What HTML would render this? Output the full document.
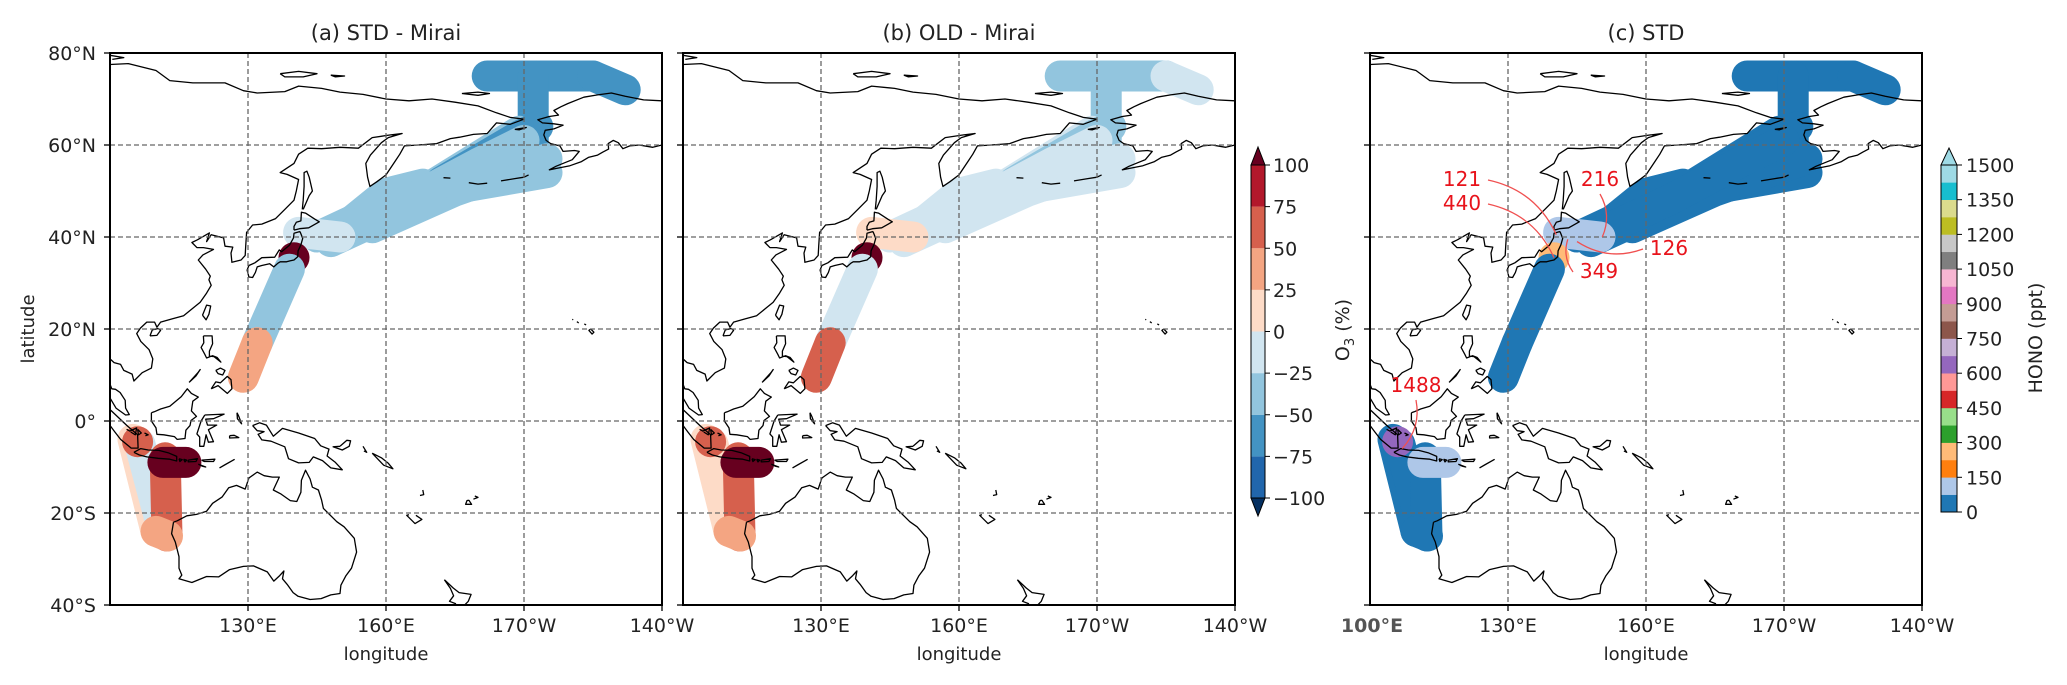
<!DOCTYPE html>
<html><head><meta charset="utf-8">
<style>
html,body{margin:0;padding:0;background:#fff;}
svg{display:block;font-family:"DejaVu Sans","Liberation Sans",sans-serif;}
</style></head>
<body>
<svg id="fig" xmlns="http://www.w3.org/2000/svg" width="2067" height="685" viewBox="0 0 2067 685">
<defs>
<clipPath id="clip0"><rect x="110" y="53" width="552" height="552"/></clipPath>
<clipPath id="clip1"><rect x="683" y="53" width="552" height="552"/></clipPath>
<clipPath id="clip2"><rect x="1370" y="53" width="552" height="552"/></clipPath>
</defs>
</svg>
<script>
// ---- chart data ----
const panelTitles = ["(a) STD - Mirai", "(b) OLD - Mirai", "(c) STD"];
const lonTicks = [130, 160, 190, 220];
const lonTickLabels = ["130°E", "160°E", "170°W", "140°W"];
const latTicks = [80, 60, 40, 20, 0, -20, -40];
const latTickLabels = ["80°N", "60°N", "40°N", "20°N", "0°", "20°S", "40°S"];
const o3Bounds = [-100, -75, -50, -25, 0, 25, 50, 75, 100];
const o3TickLabels = ["−100", "−75", "−50", "−25", "0", "25", "50", "75", "100"];
const o3Colors = ["#2166ac", "#4393c3", "#92c5de", "#d1e5f0", "#fddbc7", "#f4a582", "#d6604d", "#b2182b"];
const honoTicks = [0, 150, 300, 450, 600, 750, 900, 1050, 1200, 1350, 1500];
const honoColors = ["#1f77b4","#aec7e8","#ff7f0e","#ffbb78","#2ca02c","#98df8a","#d62728","#ff9896","#9467bd","#c5b0d5","#8c564b","#c49c94","#e377c2","#f7b6d2","#7f7f7f","#c7c7c7","#bcbd22","#dbdb8d","#17becf","#9edae5"];
// ship track segments (lon/lat in degrees)
const trackLons = [[182,205],[205,212],[192,192],[148,172,195],[145,160,168,189],[152,160,168],[172,189,193],[157,175,195],[150,165,180,190],[141,150],[140,140],[139,132],[132,129],[105,110],[106.5,111],[112,112.4],[111.5,116.5],[106,106],[110,112.5]];
const trackLats = [[75,75],[75,72],[75,54],[39,50,54],[40,47,50,63],[43,49.5,51.5],[52,62,64],[42,50,57],[41,48,56,61],[41,40],[35.5,35.5],[33,17],[17,9.5],[-4,-24],[-5,-22],[-8,-25],[-9,-9],[-4.5,-4.5],[-24,-25]];
const o3DiffSTD = [-55,-60,-55,-40,-40,-35,-55,-40,-40,-15,120,-30,30,10,-10,60,120,60,40];
const o3DiffOLD = [-35,-15,-35,-20,-15,-20,-30,-20,-15,10,120,-15,55,20,15,70,120,60,40];
const honoSTD = [30,30,30,30,30,30,30,30,30,100,250,30,30,30,30,30,100,600,30];
// annotations in panel c
const annoText = ["121","440","216","126","349","1488"];
const annoLon = [140.5,140,150.5,145,143,107];
const annoLat = [40.5,35.5,40,39,39.5,-6];
const annoTextX = [1462,1462,1600,1669,1599,1416];
const annoTextY = [186,210,186,255,278,392];

// coastlines (approximate)
const coasts = [
 [[100,77.5],[104,77.7],[110,76.2],[113,74],[118,73.5],[125,73.5],[129,71.8],[132,71.3],[138,71.6],[141,72.8],[146,72.3],[150,71.5],[155,71],[160,70],[165,69.6],[170,70],[175,69.3],[180,68.5],[184,67],[187,66],[190,65.6],[187,64.5],[184,64.8],[182,62.5],[179,62.3],[176,61.7],[174,61.4],[171,60.3],[167,60],[164,59.8],[163,58],[162,56.5],[161,55],[160,53.5],[158,52],[156.5,51],[156,53],[155.6,56],[156.6,57.8],[159,60.5],[160.5,61.6],[163.5,62.5],[161,62.2],[157,61.6],[154,59.3],[150,59.5],[146,59.2],[143,59.3],[141,58],[140,56],[137,54],[138.5,53.6],[141,52.5],[140.5,50],[140,48],[138,46],[136,44],[133,42.8],[131,42.6],[129.7,41],[129.5,38],[129.4,36],[128.5,35],[126.5,34.5],[126.3,36.5],[126.7,37.8],[125,38],[124.7,39.8],[122,40.5],[121,39],[121.6,40.9],[119,39.4],[117.8,38.8],[118.9,37.7],[120.3,37.7],[122.5,37.3],[120.2,36.1],[119.2,35],[120.8,33],[121.8,31.5],[121.5,30.7],[122,29.5],[121,27.8],[119.6,25.8],[118,24.5],[116,22.9],[113.5,22.2],[111,21.5],[110.2,20.4],[109.7,21.5],[108,21.5],[106.6,20.2],[105.8,19],[106.7,17.3],[108.5,15.5],[109.3,13.5],[109,11.5],[107,10.5],[105.2,8.7],[104.8,10.2],[103,11],[102.3,12.3],[100.9,12.7],[100,13.5]],
 [[100,12.5],[99.2,10.5],[99.8,8.5],[100.4,7],[101.2,6.9],[102.2,6.2],[103.3,4.5],[103.4,2.8],[104.2,1.4],[103.4,1.3],[101.3,2.8],[100.3,4.5],[100,5]],
 [[142,46],[143.3,49],[144,50],[143.3,53],[142.8,54.3],[142.2,54],[142.2,51],[142,48],[141.8,46]],
 [[140,41.5],[141.2,41.8],[143.2,42],[145.5,43.3],[144.5,43.9],[142.5,45.2],[141.6,45.4],[141.5,43.5],[140.5,43.2],[140,42.3],[140,41.5]],
 [[141.3,41.2],[141.9,39.7],[141.5,38.3],[140.9,37],[140.8,35.7],[140,35],[139.1,34.8],[138.4,34.6],[137,34.6],[136.5,34.3],[135.6,33.5],[134.7,34.2],[133,33.8],[132,33.5],[131.6,32.3],[131,31.2],[130.2,31.3],[129.8,32.8],[130.2,33.8],[131.5,34.4],[133,35.5],[135.8,35.6],[136.8,37.2],[137.3,36.8],[139,38.2],[139.9,39.8],[140,40.8],[141.3,41.2]],
 [[120.1,23],[121,25.2],[121.9,25],[121.5,23.2],[120.9,22],[120.1,23]],
 [[108.7,18.5],[110.2,18.6],[111,19.7],[110.5,20.1],[109.2,19.8],[108.7,18.5]],
 [[120.3,18.5],[122.2,18.5],[122.3,16.8],[121.6,15.2],[121.6,14.1],[122.6,14],[124.1,12.8],[123.3,13.8],[122.3,14.2],[121,13.7],[120.6,14.5],[119.8,16],[120.4,17],[120.3,18.5]],
 [[122,7],[123.5,7.7],[125.5,6],[126.5,7],[126.3,9],[125.5,9.7],[124,8.3],[123,8.5],[122,7]],
 [[117.2,8.4],[118.7,9.8],[119.6,11.2],[119.1,10.5],[117.2,8.4]],
 [[123,11],[124,11.5],[125,11],[124.5,10],[123.5,10.3],[123,11]],
 [[109,1.8],[109.6,2],[111,2.6],[113,3.2],[115.5,5.3],[116.8,7],[117.7,6],[119.2,5.2],[118,4.3],[117.7,2.2],[118.8,1],[117.6,0.1],[117.4,-1],[116.5,-2],[116.3,-3.8],[114.6,-4],[114,-3.4],[111.7,-3],[110.2,-2.9],[110,-1.5],[109,0],[109,1.8]],
 [[120.6,1.3],[124.8,1.5],[122.5,0.5],[120.8,0.4],[121.2,-0.9],[123.2,-0.9],[121.4,-1.9],[122.5,-4.5],[121.4,-4.6],[120.9,-3],[120.4,-5.5],[119.5,-5.5],[119.5,-3.5],[118.9,-2.8],[119.8,0],[120.6,1.3]],
 [[95.5,5.6],[97.5,5.2],[100.3,2.2],[103.7,-1],[106,-3],[106.1,-5.9],[104.6,-5.9],[102.3,-4],[101,-2.3],[99.2,0.1],[98,2],[96,4],[95.5,5.6]],
 [[105.2,-6.8],[106.7,-6],[108.3,-6.3],[110.6,-6.4],[112.6,-6.9],[114.5,-7.7],[114.5,-8.7],[113,-8.3],[110.5,-8.1],[108,-7.8],[106.4,-7.4],[105.2,-6.8]],
 [[115,-8.2],[115.7,-8.4],[115.2,-8.8],[115,-8.2]],
 [[116,-8.3],[116.7,-8.5],[116.3,-8.9],[116,-8.3]],
 [[117,-8.5],[119,-8.2],[118.7,-8.8],[117,-8.9],[117,-8.5]],
 [[119.9,-8.5],[122.8,-8.3],[122.5,-8.8],[120.5,-8.8],[119.9,-8.5]],
 [[123.8,-10.2],[127,-8.4],[125,-9.5],[123.8,-10.2]],
 [[119.2,-9.4],[120.8,-10],[120,-9.8],[119.2,-9.4]],
 [[126,-3.2],[127,-3.1],[128,-3.6],[126,-3.7],[126,-3.2]],
 [[127.6,1.8],[128,1],[128.6,-0.6],[127.7,0.5],[127.6,1.8]],
 [[131,-1],[132.5,-0.4],[134,-0.9],[135.5,-3.3],[137.5,-1.6],[141,-2.6],[144.5,-3.8],[145.8,-5.4],[147.6,-6.1],[147.2,-7.6],[149,-9],[150.5,-10.6],[148,-10.2],[146.2,-8.6],[144.2,-7.8],[143.3,-9],[141,-9.1],[138.8,-8.2],[138,-5.6],[135,-4.4],[133,-4.1],[132.2,-2.9],[133.5,-2.3],[132,-2.1],[131,-1]],
 [[150,-5.5],[151.5,-4.2],[152.3,-4.3],[152,-5.5],[150.5,-6.3],[148.5,-5.6],[150,-5.5]],
 [[155,-5.5],[155.8,-6.8],[155.2,-6.5]],
 [[157,-7],[159,-8],[160.5,-9.2],[161.5,-10.4],[159.5,-9.6],[157,-7]],
 [[113.8,-22],[113.4,-24.5],[114.2,-26.3],[115,-29.5],[115,-32],[115.6,-33.5],[115,-34.3],[117.8,-35.1],[121,-33.8],[123.6,-33.9],[126,-32.3],[129,-31.6],[131.2,-31.5],[134.2,-32.8],[135.6,-34.8],[136.9,-33.6],[137.8,-32.6],[137.5,-34.3],[138.5,-35.5],[139.8,-37.3],[140.9,-38.1],[143.5,-38.8],[145.9,-38.6],[148,-37.8],[150,-37.5],[150.2,-35.7],[151.3,-33.6],[152.5,-32],[153.6,-28.5],[153.1,-25.5],[150.9,-23],[149.3,-21.9],[146.4,-19],[146,-17.2],[145.3,-15],[144,-14.4],[143.5,-12.6],[142.5,-10.7],[141.6,-12.9],[141.5,-15.5],[140.6,-17.5],[139.2,-17.3],[137.2,-15.9],[135.5,-15],[136.8,-12.2],[135.3,-12.2],[133.5,-11.9],[132,-11.1],[130.2,-12.4],[129.4,-14.8],[127.5,-14],[125.8,-14.5],[124.4,-16.5],[122.3,-17.9],[121,-19.6],[118.8,-20.3],[116.7,-20.6],[114.6,-21.7],[113.8,-22]],
 [[172.7,-34.5],[174.6,-36.3],[175.9,-37.3],[178.5,-37.7],[177.9,-39.2],[176.8,-40.3],[175.2,-41.6],[174.6,-40.5],[175.1,-39.7],[173.8,-39.2],[174.7,-38],[174,-36.4],[172.7,-34.5]],
 [[166.5,-20.5],[167.8,-21.4],[166.3,-22.3],[164.5,-20.5],[165,-20.4]],
 [[178,-17.2],[178.6,-18.1],[177.3,-18.1],[177.6,-17.3],[178,-17.2]],
 [[179.3,-16.3],[180,-16.6],[179,-17]],
 [[168,-15],[168.2,-16],[167.4,-16.2]],
 [[204.5,20],[205.2,19.3],[204.8,18.9],[204.1,19.7],[204.5,20]],
 [[203.1,21.1],[203.5,20.9]],[[201.5,21.6],[201.9,21.3]],[[200.5,22],[200.7,22.1]],
 [[220,60],[218,59.5],[215,60],[213,59.8],[211.5,59.2],[210.5,60.5],[209.4,61],[208.3,60.3],[208.4,59.1],[207.2,58.5],[206,57.8],[204,57.3],[202.5,56.4],[200,55.5],[197.5,55],[195.5,54.6],[197,55.4],[200.5,56.8],[202,58.6],[201,58.8],[198.5,58.6],[197.8,59.8],[195.8,60.3],[194.8,61],[194.3,62.2],[194.6,63.2],[196.5,63.5],[198.5,64.3],[196.5,64.6],[194,64.8],[193,65.5],[195.5,66.2],[197.5,66.5],[196.5,67.5],[198,68.3],[199.5,69],[203,70.4],[206,70.9],[209,71.3],[212,70.6],[216,69.8],[220,69.6]],
 [[185,52.2],[188,52.7],[190,53],[191,53.5]],[[178,51.8],[180,51.5],[182,51.7]],[[172.5,52.9],[174,52.8]],
 [[188,63.4],[190.5,63.8],[189,63.3],[188,63.4]],
 [[176.5,71.2],[180,71.5],[182.5,71.2],[180,70.8],[176.5,71.2]],
 [[137,75.5],[141,76],[145,75.5],[142,74.8],[138,74.8],[137,75.5]],[[148,75.2],[151,75],[149,74.8],[148,75.2]],
 [[100,79.5],[103,79],[100.5,78.6]],
 [[103.6,-1.8],[104.3,-2.2],[105.8,-1.5],[105.5,-3],[104.5,-2.4]],
 [[106,-1.8],[106.8,-2.6],[106.2,-3],[106,-1.8]],
 [[107.5,-2.6],[108.3,-3],[107.7,-3.2]]
];

const svg = document.getElementById('fig');
const NS = 'http://www.w3.org/2000/svg';
const panelX = [110, 683, 1370];
const PY = 53, PW = 552, PH = 552;
function xScale(p, lon) { return panelX[p] + (lon - 100) / 120 * PW; }
function yScale(lat) { return PY + (80 - lat) / 120 * PH; }
function mk(tag, attrs, parent) {
  const e = document.createElementNS(NS, tag);
  for (const k in attrs) e.setAttribute(k, attrs[k]);
  (parent || svg).appendChild(e);
  return e;
}
function o3Color(v) {
  if (v > 100) return "#67001f";
  if (v < -100) return "#053061";
  for (let i = 0; i < o3Colors.length; i++) if (v <= o3Bounds[i + 1]) return o3Colors[i];
  return o3Colors[o3Colors.length - 1];
}
function honoColor(v) {
  const i = Math.min(honoColors.length - 1, Math.max(0, Math.floor(v / 75)));
  return honoColors[i];
}
const panelVals = [o3DiffSTD, o3DiffOLD, honoSTD];

for (let p = 0; p < 3; p++) {
  const g = mk('g', {'clip-path': 'url(#clip' + p + ')'});
  
  
  for (let t = 0; t < trackLons.length; t++) {
    const pts = trackLons[t].map((lo, i) => xScale(p, lo).toFixed(1) + ',' + yScale(trackLats[t][i]).toFixed(1)).join(' ');
    const v = panelVals[p][t];
    const col = p < 2 ? o3Color(v) : honoColor(v);
    const pl = mk('polyline', {points: pts, fill: 'none', stroke: col, 'stroke-width': 31, 'stroke-linecap': 'round', 'stroke-linejoin': 'round'}, g);
    
    
  }
  for (const c of coasts) {
    const pts = c.map(q => xScale(p, q[0]).toFixed(1) + ',' + yScale(q[1]).toFixed(1)).join(' ');
    const cl = mk('polyline', {points: pts, fill: 'none', stroke: '#000', 'stroke-width': 1.3, 'stroke-linejoin': 'round'}, g);
    
    
  }
  for (const lon of [130, 160, 190]) {
    const x = xScale(p, lon);
    const gl = mk('line', {x1: x, x2: x, y1: PY, y2: PY + PH, stroke: '#666', 'stroke-width': 1.3, 'stroke-dasharray': '5,3'}, g);
    
    
  }
  for (const lat of [60, 40, 20, 0, -20]) {
    const y = yScale(lat);
    const gl = mk('line', {x1: panelX[p], x2: panelX[p] + PW, y1: y, y2: y, stroke: '#666', 'stroke-width': 1.3, 'stroke-dasharray': '5,3'}, g);
    
    
  }
  const fr = mk('rect', {x: panelX[p], y: PY, width: PW, height: PH, fill: 'none', stroke: '#000', 'stroke-width': 2});
  
  
  const tt = mk('text', {x: panelX[p] + PW / 2, y: 40, 'font-size': 21, 'text-anchor': 'middle', fill: '#222'});
  tt.textContent = panelTitles[p];
  
  
  for (let i = 0; i < lonTicks.length; i++) {
    const x = xScale(p, lonTicks[i]);
    mk('line', {x1: x, x2: x, y1: PY + PH, y2: PY + PH + 6, stroke: '#000', 'stroke-width': 1.3});
    const tl = mk('text', {x: x, y: 632, 'font-size': 19, 'text-anchor': 'middle', fill: '#222'});
    tl.textContent = lonTickLabels[i];
    
    
  }
  const xl = mk('text', {x: panelX[p] + PW / 2, y: 660, 'font-size': 18, 'text-anchor': 'middle', fill: '#222'});
  xl.textContent = 'longitude';
  
  
  for (let i = 0; i < latTicks.length; i++) {
    const y = yScale(latTicks[i]);
    mk('line', {x1: panelX[p] - 6, x2: panelX[p], y1: y, y2: y, stroke: '#000', 'stroke-width': 1.3});
    if (p === 0) {
      const yl = mk('text', {x: 96, y: y + 7, 'font-size': 19, 'text-anchor': 'end', fill: '#222'});
      yl.textContent = latTickLabels[i];
      
      
    }
  }
}
const e100 = mk('text', {x: xScale(2, 100) + 2, y: 632, 'font-size': 19, 'text-anchor': 'middle', fill: '#555', 'font-weight': 'bold'});
e100.textContent = '100°E';


const latT = mk('text', {x: 0, y: 0, 'font-size': 18, 'text-anchor': 'middle', fill: '#222', transform: 'translate(34,329) rotate(-90)'});
latT.textContent = 'latitude';



for (let i = 0; i < annoText.length; i++) {
  const tx = annoTextX[i], ty = annoTextY[i];
  const ex = xScale(2, annoLon[i]), ey = yScale(annoLat[i]);
  const sx = tx + (ex > tx + 30 ? 26 : (ex < tx - 30 ? -26 : 0)), sy = ty + (Math.abs(ex - tx) <= 30 ? 8 : -6);
  const cx = (sx + ex) / 2 + (ey - sy) * 0.25, cy = (sy + ey) / 2 - (ex - sx) * 0.25;
  const ar = mk('path', {d: `M${sx},${sy} Q${cx},${cy} ${ex},${ey}`, fill: 'none', stroke: '#f05050', 'stroke-width': 1.3});
  
  
  const at = mk('text', {x: tx, y: ty, 'font-size': 20, 'text-anchor': 'middle', fill: '#e8131b'});
  at.textContent = annoText[i];
  
  
}

const cb1x = 1251, cb1w = 14, cb1top = 165, cb1bot = 498;
function o3Y(v) { return cb1bot - (v + 100) / 200 * (cb1bot - cb1top); }
for (let i = 0; i < o3Colors.length; i++) {
  const r = mk('rect', {x: cb1x, y: o3Y(o3Bounds[i + 1]), width: cb1w, height: o3Y(o3Bounds[i]) - o3Y(o3Bounds[i + 1]), fill: o3Colors[i]});
  
  
}
mk('polygon', {points: `${cb1x},${cb1top} ${cb1x + cb1w / 2},${cb1top - 18} ${cb1x + cb1w},${cb1top}`, fill: '#67001f', stroke: '#000', 'stroke-width': 1});
mk('polygon', {points: `${cb1x},${cb1bot} ${cb1x + cb1w / 2},${cb1bot + 18} ${cb1x + cb1w},${cb1bot}`, fill: '#053061', stroke: '#000', 'stroke-width': 1});
mk('rect', {x: cb1x, y: cb1top, width: cb1w, height: cb1bot - cb1top, fill: 'none', stroke: '#000', 'stroke-width': 1});
for (let i = 0; i < o3Bounds.length; i++) {
  const y = o3Y(o3Bounds[i]);
  mk('line', {x1: cb1x + cb1w, x2: cb1x + cb1w + 5, y1: y, y2: y, stroke: '#000'});
  const t = mk('text', {x: cb1x + cb1w + 8, y: y + 7, 'font-size': 19, fill: '#222'});
  t.textContent = o3TickLabels[i];
  
  
}
const o3l = mk('text', {x: 0, y: 0, 'font-size': 19, 'text-anchor': 'middle', fill: '#222', transform: 'translate(1349,330) rotate(-90)'});
o3l.innerHTML = 'O<tspan font-size="13" dy="5">3</tspan><tspan dy="-5"> (%)</tspan>';



const cb2x = 1941, cb2w = 16, cb2top = 165, cb2bot = 512;
function honoY(v) { return cb2bot - v / 1500 * (cb2bot - cb2top); }
for (let i = 0; i < honoColors.length; i++) {
  const r = mk('rect', {x: cb2x, y: honoY((i + 1) * 75), width: cb2w, height: honoY(i * 75) - honoY((i + 1) * 75) + 0.3, fill: honoColors[i]});
  
  
}
mk('polygon', {points: `${cb2x},${cb2top} ${cb2x + cb2w / 2},${cb2top - 17} ${cb2x + cb2w},${cb2top}`, fill: '#9edae5', stroke: '#000', 'stroke-width': 1});
mk('rect', {x: cb2x, y: cb2top, width: cb2w, height: cb2bot - cb2top, fill: 'none', stroke: '#000', 'stroke-width': 1});
for (let i = 0; i < honoTicks.length; i++) {
  const y = honoY(honoTicks[i]);
  mk('line', {x1: cb2x + cb2w, x2: cb2x + cb2w + 5, y1: y, y2: y, stroke: '#000'});
  const t = mk('text', {x: cb2x + cb2w + 9, y: y + 7, 'font-size': 19, fill: '#222'});
  t.textContent = honoTicks[i];
  
  
}
const hl = mk('text', {x: 0, y: 0, 'font-size': 19, 'text-anchor': 'middle', fill: '#222', transform: 'translate(2042,338) rotate(-90)'});
hl.textContent = 'HONO (ppt)';


</script>
</body></html>
